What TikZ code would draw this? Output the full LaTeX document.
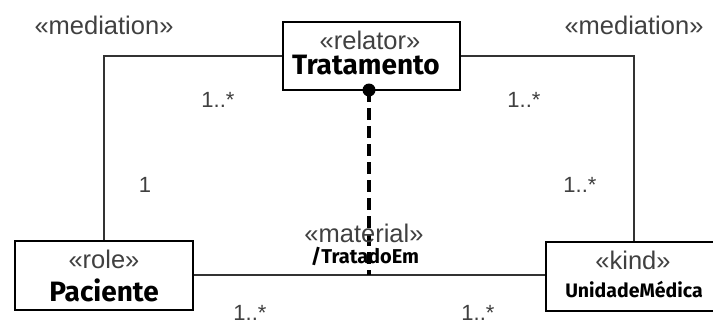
\documentclass[tikz,border=0pt]{standalone}
\usepackage{fontspec}
\setmainfont{Liberation Sans}
\newfontfamily\namefont{Fira Sans}
\begin{document}
\begin{tikzpicture}[x=1pt,y=-1pt,
  classbox/.style={draw=black,line width=2.6pt,fill=white,inner sep=0pt},
  stereo/.style={text=black!75,font=\fontsize{25.5}{27}\selectfont,inner sep=0pt},
  cname/.style={text=black,font=\namefont\bfseries\fontsize{28}{30}\selectfont,inner sep=0pt},
  mult/.style={text=black!75,font=\fontsize{22}{24}\selectfont,inner sep=0pt},
  assoc/.style={draw=black!80,line width=1.8pt},
  derive/.style={draw=black,line width=3.2pt,dash pattern=on 12pt off 6pt}]
\useasboundingbox (0,0) rectangle (713,327);
\clip (0,0) rectangle (713,327);

% classes
\node[classbox,minimum width=177pt,minimum height=68pt] (trat) at (371.5,56) {};
\node[stereo] (tratS) at (370,40) {«relator»};
\node[cname] (tratN) at (366,65) {Tratamento};

\node[classbox,minimum width=178pt,minimum height=69pt] (pac) at (104,275.5) {};
\node[stereo] (pacS) at (104,259) {«role»};
\node[cname] (pacN) at (104,290) {Paciente};

\node[classbox,minimum width=174pt,minimum height=69pt] (uni) at (633,276.5) {};
\node[stereo] (uniS) at (633,260) {«kind»};
\node[cname,font=\namefont\bfseries\fontsize{19.5}{21}\selectfont] (uniN) at (634,290) {UnidadeMédica};

% mediation associations
\coordinate (lc) at (104,56);
\coordinate (rc) at (634,56);
\draw[assoc] (trat.west |- lc) -- (lc) -- (lc |- pac.north);
\draw[assoc] (trat.east |- rc) -- (rc) -- (rc |- uni.north);

% material association
\draw[assoc] (pac.east |- 0,275) -- (uni.west |- 0,275);

% derivation
\coordinate (dtop) at (369,90);
\coordinate (dbot) at (369,275);
\draw[derive] (dtop) -- (dbot);
\fill[black] (dtop) circle (6.5pt);

% labels
\node[stereo] (medL) at (104,25) {«mediation»};
\node[stereo] (medR) at (634,25) {«mediation»};
\node[stereo] (matS) at (364,233) {«material»};
\node[cname,font=\namefont\bfseries\fontsize{20}{22}\selectfont] (matN) at (365,256) {/TratadoEm};

\node[mult] (m1) at (218,100) {1..*};
\node[mult] (m2) at (524,100) {1..*};
\node[mult] (m3) at (145,185) {1};
\node[mult] (m4) at (580,185) {1..*};
\node[mult] (m5) at (250,313) {1..*};
\node[mult] (m6) at (478,313) {1..*};
\end{tikzpicture}
\end{document}
